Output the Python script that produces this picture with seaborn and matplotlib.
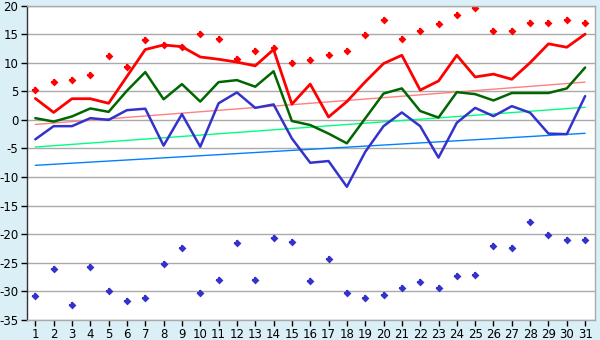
import matplotlib
matplotlib.use("Agg")
import matplotlib.pyplot as plt
import seaborn as sns
import pandas as pd

days = list(range(1, 32))

red_points = [5.3, 6.7, 6.9, 7.9, 11.1, 9.2, 13.9, 13.1, 12.8, 15.1, 14.2, 10.7, 12.1, 12.5, 9.9,
              10.4, 11.4, 12.0, 14.9, 17.4, 14.1, 15.6, 16.7, 18.4, 19.5, 15.6, 15.6, 17.0, 17.0, 17.5, 17.0]
red_line = [3.75, 1.3, 3.7, 3.7, 2.9, 7.6, 12.3, 13.1, 12.8, 11.0, 10.6, 10.1, 9.45, 12.3, 2.75,
            6.25, 0.5, 3.2, 6.65, 9.85, 11.3, 5.2, 6.8, 11.3, 7.5, 8.0, 7.1, 10.0, 13.3, 12.7, 15.0]
green_line = [0.3, -0.3, 0.6, 2.0, 1.4, 5.1, 8.35, 3.6, 6.25, 3.2, 6.6, 6.95, 5.8, 8.5, -0.2,
              -0.9, -2.4, -4.1, 0.25, 4.6, 5.5, 1.55, 0.4, 4.85, 4.5, 3.4, 4.7, 4.7, 4.7, 5.5, 9.15]
blue_line = [-3.4, -1.1, -1.1, 0.3, 0.0, 1.7, 1.95, -4.5, 1.0, -4.7, 2.9, 4.8, 2.1, 2.7, -3.25,
             -7.5, -7.2, -11.7, -5.6, -1.1, 1.3, -1.1, -6.6, -0.5, 2.1, 0.65, 2.4, 1.25, -2.4, -2.5, 4.15]
blue_points = [-30.8, -26.1, -32.4, -25.8, -29.95, -31.7, -31.2, -25.2, -22.4, -30.3, -28.0, -21.6, -28.0, -20.7, -21.4,
               -28.2, -24.4, -30.3, -31.2, -30.65, -29.4, -28.4, -29.4, -27.3, -27.15, -22.1, -22.4, -17.9, -20.2, -21.0, -21.0]

trend_x = [1, 31]
trend_red = [-0.8, 6.6]
trend_green = [-4.75, 2.2]
trend_blue = [-7.95, -2.35]

y_ticks = list(range(-35, 21, 5))

sns.set_theme(style="white")
plt.rcParams['font.family'] = ['DejaVu Sans']
plt.rcParams['axes.unicode_minus'] = False

fig = plt.figure(figsize=(6, 3.4), dpi=100)
fig.patch.set_facecolor("#daeff6")
ax = fig.add_axes([0.0445, 0.0588, 0.9475, 0.925])
ax.set_facecolor("white")

df = pd.DataFrame({"day": days, "rp": red_points, "rl": red_line, "gl": green_line,
                   "bl": blue_line, "bp": blue_points})
tdf = pd.DataFrame({"x": trend_x, "r": trend_red, "g": trend_green, "b": trend_blue})

for y in y_ticks:
    ax.axhline(y, color="#aaaaaa", lw=1.0, zorder=0)

sns.lineplot(data=tdf, x="x", y="r", ax=ax, color="#ff8080", lw=1.0)
sns.lineplot(data=tdf, x="x", y="g", ax=ax, color="#00ff80", lw=1.0)
sns.lineplot(data=tdf, x="x", y="b", ax=ax, color="#0080ff", lw=1.0)

sns.lineplot(data=df, x="day", y="rl", ax=ax, color="#ff0000", lw=2.0)
sns.lineplot(data=df, x="day", y="gl", ax=ax, color="#006600", lw=1.8)
sns.lineplot(data=df, x="day", y="bl", ax=ax, color="#3333cc", lw=1.8)

sns.scatterplot(data=df, x="day", y="rp", ax=ax, color="#ff0000", marker="D", s=16, linewidth=0)
sns.scatterplot(data=df, x="day", y="rp", ax=ax, color="#ff0000", marker="P", s=18, linewidth=0)
sns.scatterplot(data=df, x="day", y="bp", ax=ax, color="#3333cc", marker="D", s=16, linewidth=0)
sns.scatterplot(data=df, x="day", y="bp", ax=ax, color="#3333cc", marker="P", s=18, linewidth=0)

ax.set_xlim(0.53, 31.55)
ax.set_ylim(-35, 20)
ax.set_xticks(days)
ax.set_xticklabels([str(d) for d in days])
ax.set_yticks(y_ticks)
ax.set_xlabel("")
ax.set_ylabel("")
ax.tick_params(axis="both", labelsize=8.5, colors="#000000", length=4, width=1, direction="out",
               left=True, bottom=True, pad=2)
for side in ["top", "right"]:
    ax.spines[side].set_color("#aaaaaa")
    ax.spines[side].set_linewidth(1.0)
ax.spines["left"].set_color("#333333")
ax.spines["bottom"].set_color("#aaaaaa")
ax.spines["left"].set_linewidth(1.0)
ax.spines["bottom"].set_linewidth(1.0)

fig.savefig("out.png", dpi=100, facecolor=fig.get_facecolor())
